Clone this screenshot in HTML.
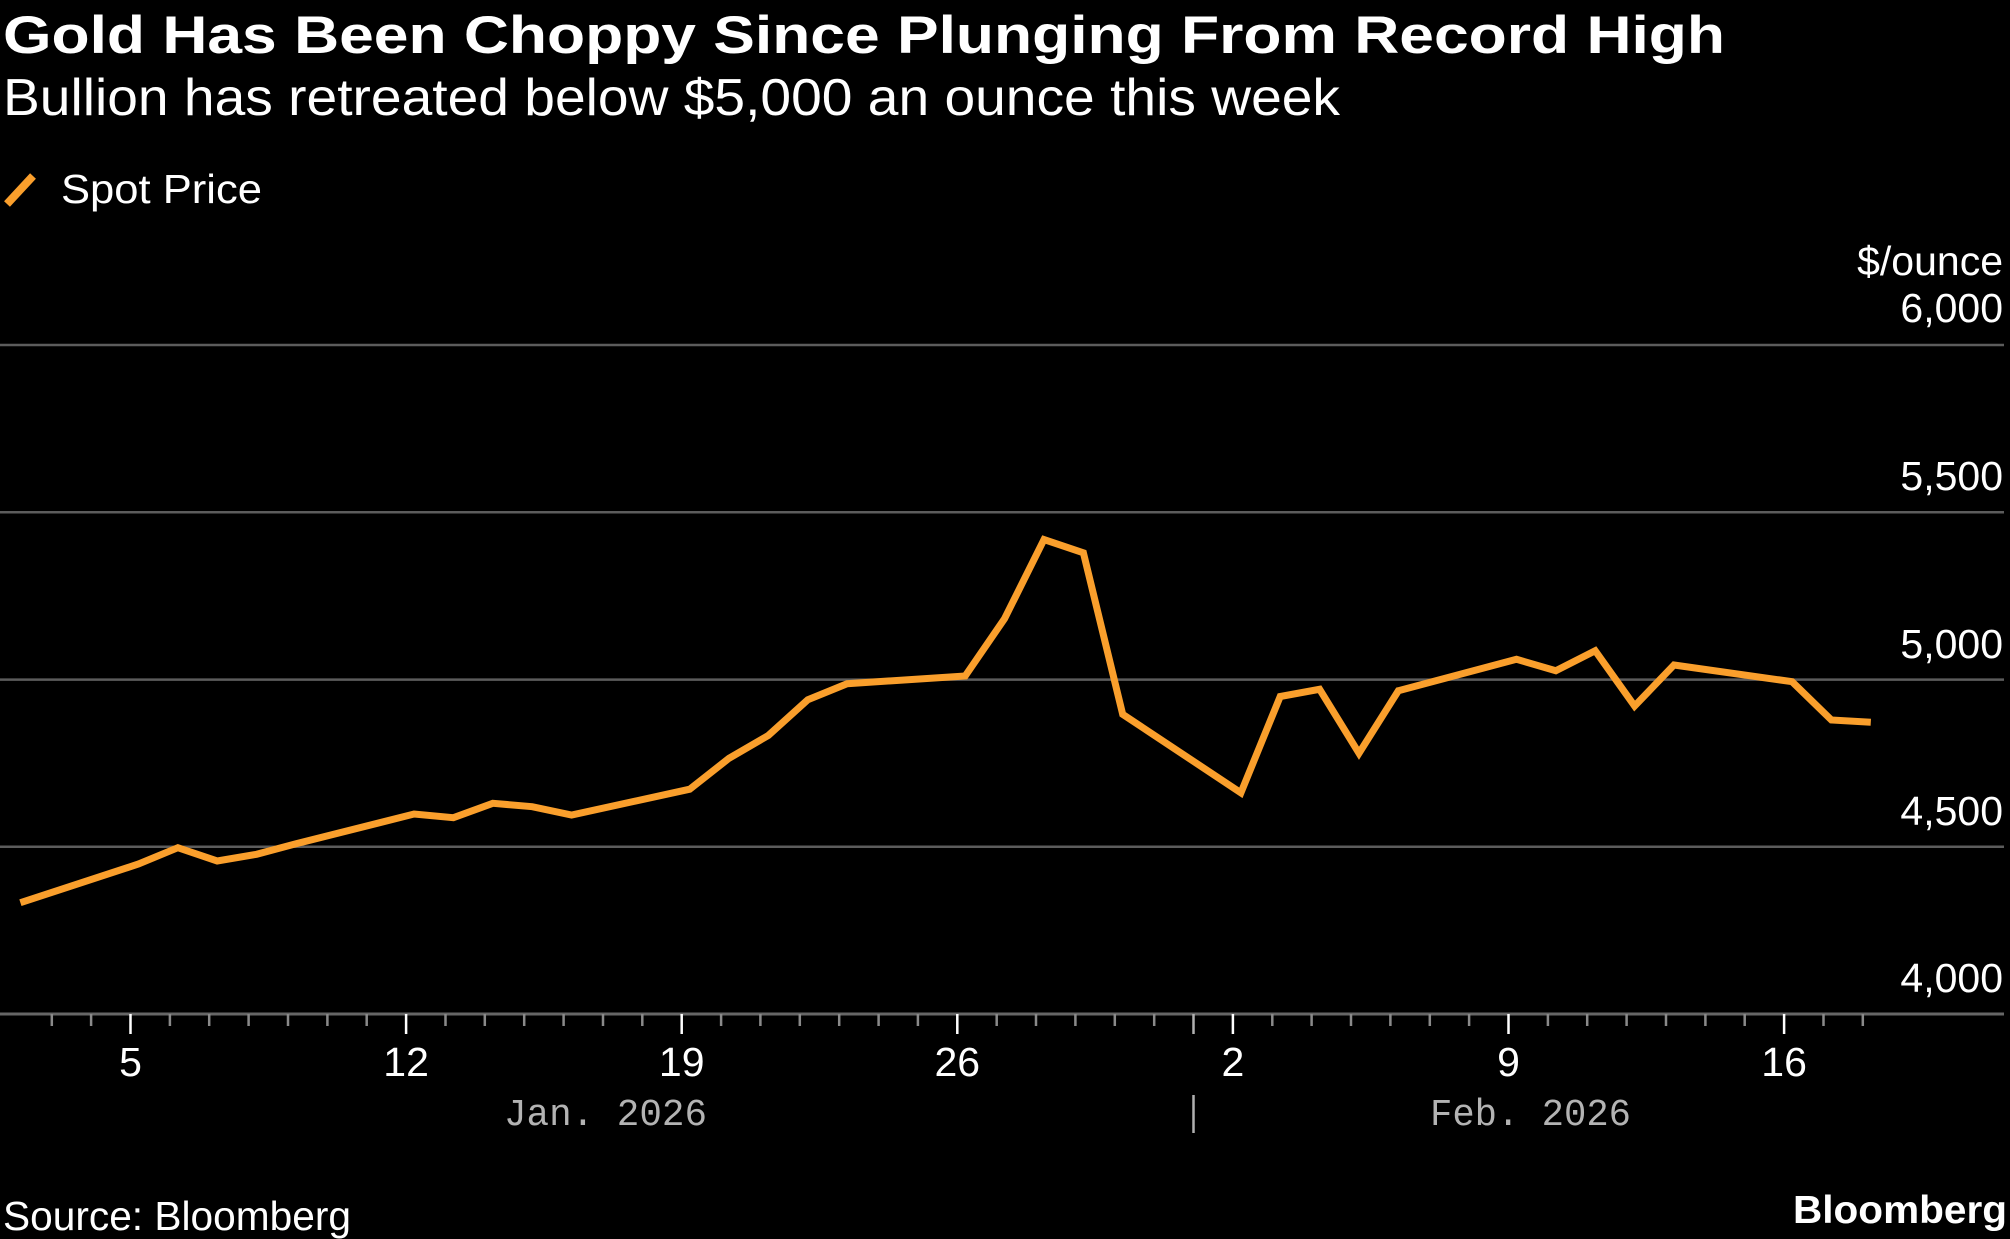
<!DOCTYPE html>
<html>
<head>
<meta charset="utf-8">
<style>
  html, body { margin:0; padding:0; background:#000; }
  body { width:2010px; height:1239px; overflow:hidden; }
  svg { display:block; }
  .sans { font-family: "Liberation Sans", "DejaVu Sans", sans-serif; }
  .mono { font-family: "Liberation Mono", "DejaVu Sans Mono", monospace; }
</style>
</head>
<body>
<svg width="2010" height="1239" viewBox="0 0 2010 1239" xmlns="http://www.w3.org/2000/svg">
  <rect x="0" y="0" width="2010" height="1239" fill="#000"/>

  <!-- Title / subtitle -->
  <text class="sans" x="3" y="53" font-size="53" font-weight="bold" fill="#fff" textLength="1722" lengthAdjust="spacingAndGlyphs">Gold Has Been Choppy Since Plunging From Record High</text>
  <text class="sans" x="3" y="115" font-size="52" fill="#fff" textLength="1337" lengthAdjust="spacingAndGlyphs">Bullion has retreated below $5,000 an ounce this week</text>

  <!-- Legend -->
  <line x1="7" y1="204" x2="33" y2="176" stroke="#FA9F2C" stroke-width="8"/>
  <text class="sans" x="61" y="203" font-size="41" fill="#fff" textLength="201" lengthAdjust="spacingAndGlyphs">Spot Price</text>

  <!-- Unit label -->
  <text class="sans" x="2003" y="275" font-size="41" fill="#fff" text-anchor="end">$/ounce</text>

  <!-- Gridlines -->
  <g stroke="#5c5c5c" stroke-width="2.5">
    <line x1="0" y1="345" x2="2004" y2="345"/>
    <line x1="0" y1="512.3" x2="2004" y2="512.3"/>
    <line x1="0" y1="679.6" x2="2004" y2="679.6"/>
    <line x1="0" y1="846.7" x2="2004" y2="846.7"/>
  </g>
  <line x1="0" y1="1014" x2="2004" y2="1014" stroke="#666" stroke-width="3"/>

  <!-- Y labels -->
  <g class="sans" font-size="41" fill="#fff" text-anchor="end">
    <text x="2003" y="322">6,000</text>
    <text x="2003" y="490">5,500</text>
    <text x="2003" y="658">5,000</text>
    <text x="2003" y="825">4,500</text>
    <text x="2003" y="992">4,000</text>
  </g>

  <!-- Minor ticks -->
  <g stroke="#8a8a8a" stroke-width="2.5">
    <line x1="51.8" y1="1014" x2="51.8" y2="1026"/>
    <line x1="91.1" y1="1014" x2="91.1" y2="1026"/>
    <line x1="169.9" y1="1014" x2="169.9" y2="1026"/>
    <line x1="209.2" y1="1014" x2="209.2" y2="1026"/>
    <line x1="248.6" y1="1014" x2="248.6" y2="1026"/>
    <line x1="288.0" y1="1014" x2="288.0" y2="1026"/>
    <line x1="327.4" y1="1014" x2="327.4" y2="1026"/>
    <line x1="366.7" y1="1014" x2="366.7" y2="1026"/>
    <line x1="445.5" y1="1014" x2="445.5" y2="1026"/>
    <line x1="484.8" y1="1014" x2="484.8" y2="1026"/>
    <line x1="524.2" y1="1014" x2="524.2" y2="1026"/>
    <line x1="563.6" y1="1014" x2="563.6" y2="1026"/>
    <line x1="603.0" y1="1014" x2="603.0" y2="1026"/>
    <line x1="642.3" y1="1014" x2="642.3" y2="1026"/>
    <line x1="721.1" y1="1014" x2="721.1" y2="1026"/>
    <line x1="760.4" y1="1014" x2="760.4" y2="1026"/>
    <line x1="799.8" y1="1014" x2="799.8" y2="1026"/>
    <line x1="839.2" y1="1014" x2="839.2" y2="1026"/>
    <line x1="878.6" y1="1014" x2="878.6" y2="1026"/>
    <line x1="917.9" y1="1014" x2="917.9" y2="1026"/>
    <line x1="996.7" y1="1014" x2="996.7" y2="1026"/>
    <line x1="1036.0" y1="1014" x2="1036.0" y2="1026"/>
    <line x1="1075.4" y1="1014" x2="1075.4" y2="1026"/>
    <line x1="1114.8" y1="1014" x2="1114.8" y2="1026"/>
    <line x1="1154.2" y1="1014" x2="1154.2" y2="1026"/>
    <line x1="1272.3" y1="1014" x2="1272.3" y2="1026"/>
    <line x1="1311.6" y1="1014" x2="1311.6" y2="1026"/>
    <line x1="1351.0" y1="1014" x2="1351.0" y2="1026"/>
    <line x1="1390.4" y1="1014" x2="1390.4" y2="1026"/>
    <line x1="1429.8" y1="1014" x2="1429.8" y2="1026"/>
    <line x1="1469.1" y1="1014" x2="1469.1" y2="1026"/>
    <line x1="1547.9" y1="1014" x2="1547.9" y2="1026"/>
    <line x1="1587.2" y1="1014" x2="1587.2" y2="1026"/>
    <line x1="1626.6" y1="1014" x2="1626.6" y2="1026"/>
    <line x1="1666.0" y1="1014" x2="1666.0" y2="1026"/>
    <line x1="1705.4" y1="1014" x2="1705.4" y2="1026"/>
    <line x1="1744.7" y1="1014" x2="1744.7" y2="1026"/>
    <line x1="1823.5" y1="1014" x2="1823.5" y2="1026"/>
    <line x1="1862.8" y1="1014" x2="1862.8" y2="1026"/>
  </g>
  <!-- Month separator tick -->
  <line x1="1193.5" y1="1014" x2="1193.5" y2="1034" stroke="#b0b0b0" stroke-width="2.5"/>
  <line x1="1193.5" y1="1095" x2="1193.5" y2="1133" stroke="#b0b0b0" stroke-width="2.5"/>

  <!-- Major ticks -->
  <g stroke="#fff" stroke-width="2.5">
    <line x1="130.5" y1="1014" x2="130.5" y2="1034"/>
    <line x1="406.1" y1="1014" x2="406.1" y2="1034"/>
    <line x1="681.7" y1="1014" x2="681.7" y2="1034"/>
    <line x1="957.3" y1="1014" x2="957.3" y2="1034"/>
    <line x1="1232.9" y1="1014" x2="1232.9" y2="1034"/>
    <line x1="1508.5" y1="1014" x2="1508.5" y2="1034"/>
    <line x1="1784.1" y1="1014" x2="1784.1" y2="1034"/>
  </g>

  <!-- X labels -->
  <g class="sans" font-size="41" fill="#fff" text-anchor="middle">
    <text x="130.5" y="1076">5</text>
    <text x="406.1" y="1076">12</text>
    <text x="681.7" y="1076">19</text>
    <text x="957.3" y="1076">26</text>
    <text x="1232.9" y="1076">2</text>
    <text x="1508.5" y="1076">9</text>
    <text x="1784.1" y="1076">16</text>
  </g>
  <text class="mono" x="504" y="1125" font-size="38" fill="#b3b3b3" textLength="203" lengthAdjust="spacingAndGlyphs">Jan. 2026</text>
  <text class="mono" x="1430" y="1125" font-size="38" fill="#b3b3b3" textLength="201" lengthAdjust="spacingAndGlyphs">Feb. 2026</text>

  <!-- Series -->
  <polyline fill="none" stroke="#FA9F2C" stroke-width="7" stroke-linejoin="miter" stroke-miterlimit="4" stroke-linecap="butt"
    points="20.4,902.7 138.5,864 177.9,847.7 217.2,861 256.6,854.3 296.0,843.8 414.1,814 453.4,817.7 492.8,803.3 532.2,806.7 571.6,815 689.7,789.2 729.0,758.3 768.4,735.4 807.8,699.8 847.1,683.7 965.2,676 1004.6,618.6 1044.0,539.5 1083.4,552.8 1122.7,714.3 1240.9,792.8 1280.2,696.5 1319.6,689.3 1359.0,753.3 1398.4,690.7 1516.5,659.3 1555.8,670.7 1595.2,650.7 1634.6,706 1674.0,665 1792.1,681.7 1831.4,720 1870.8,722.3"/>

  <!-- Footer -->
  <text class="sans" x="3" y="1230" font-size="41" fill="#fff" textLength="348" lengthAdjust="spacingAndGlyphs">Source: Bloomberg</text>
  <text class="sans" x="1793" y="1223" font-size="39" font-weight="bold" fill="#fff" textLength="214" lengthAdjust="spacingAndGlyphs">Bloomberg</text>
</svg>
</body>
</html>
